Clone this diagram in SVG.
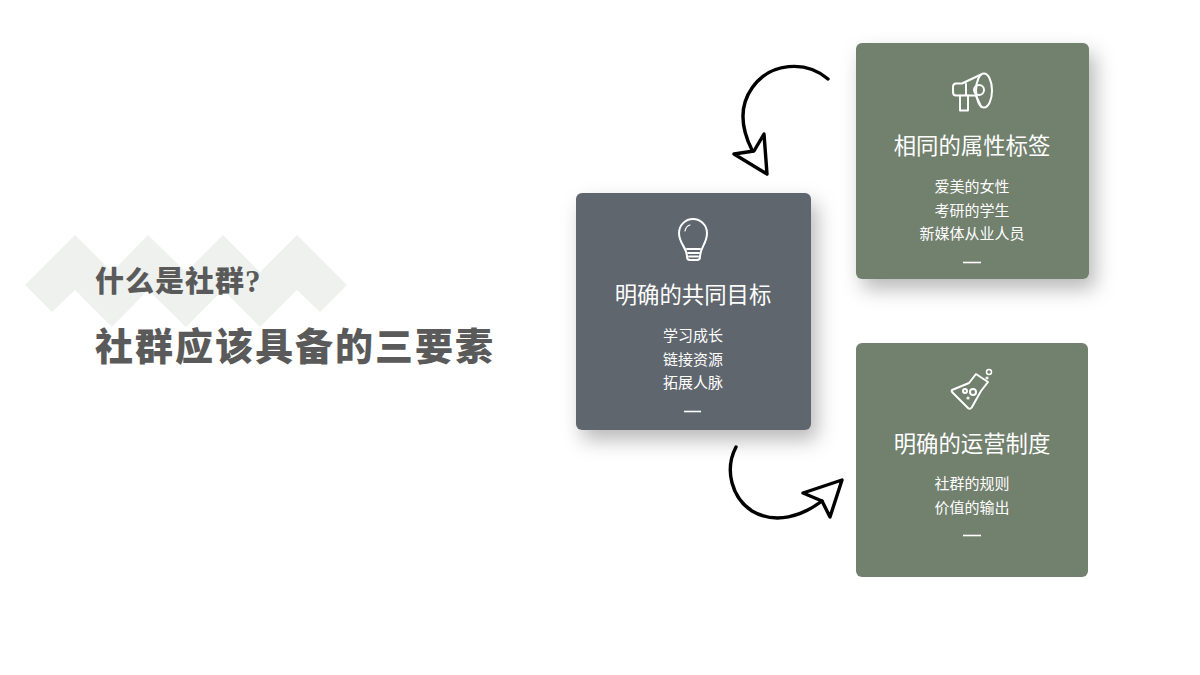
<svg xmlns="http://www.w3.org/2000/svg" width="1200" height="675" viewBox="0 0 1200 675">
<defs>
<filter id="sh" x="-20%" y="-20%" width="150%" height="150%"><feDropShadow dx="6" dy="10" stdDeviation="10" flood-color="#000" flood-opacity="0.28"/></filter>
</defs>
<style>
.h{font-family:"Liberation Serif","Noto Sans CJK SC",serif;font-weight:900;fill:#5a5a5a}
.t{font-family:"Noto Sans CJK SC",sans-serif;font-size:22.400px;fill:#fff;text-anchor:middle}
.s{font-family:"Noto Sans CJK SC",sans-serif;font-size:15px;fill:#fff;text-anchor:middle}
.i{fill:none;stroke:#fff;stroke-width:2;stroke-linejoin:round;stroke-linecap:round}
.d{stroke:#fff;stroke-width:1.6}
.c{fill:none;stroke:#000;stroke-width:3.400;stroke-linecap:round;stroke-linejoin:round}
</style>
<rect width="1200" height="675" fill="#fff"/>
<g id="heading">
<polygon points="25,285 75,235 112,272 148,235 186,272 223,235 260,272 297,235 347,285 320,312 297,290 260,327 223,290 186,327 148,290 112,327 75,290 52,312" fill="#eff1ef"/>
<text class="h" x="95" y="292" font-size="29" letter-spacing="1">什么是社群<tspan font-size="31">?</tspan></text>
<text class="h" x="95" y="360" font-size="38" letter-spacing="2">社群应该具备的三要素</text>
</g>
<g id="connectors">
<path class="c" d="M828 79C806 60 770 62 752 88C738 108 742 130 752 150"/>
<path class="c" d="M764 134L754 151L734 154L767 174Z"/>
<path class="c" d="M736 447C724 470 732 498 752 511C776 525 802 516 822 501"/>
<path class="c" d="M803 493L842 480L830 517L822 501Z"/>
</g>
<g id="node-attributes">
<rect x="856" y="43" width="233" height="236" rx="6" fill="#72806e" filter="url(#sh)"/>
<g class="i">
<ellipse cx="984" cy="90.500" rx="8" ry="17"/>
<path d="M981 74.500L962 83.500H956Q953 83.500 953 87V92Q953 95.500 956 95.500H976L981 106.500"/>
<circle cx="979" cy="90" r="5"/>
<path d="M960 95.500V110.500H968V95.500M966 84V95"/>
</g>
<text class="t" x="972" y="154">相同的属性标签</text>
<text class="s" x="972" y="192">爱美的女性</text>
<text class="s" x="972" y="216">考研的学生</text>
<text class="s" x="972" y="239">新媒体从业人员</text>
<line class="d" x1="963" y1="262.500" x2="981" y2="262.500"/>
</g>
<g id="node-goal">
<rect x="576" y="193" width="235" height="237" rx="6" fill="#5f666e" filter="url(#sh)"/>
<g class="i">
<path d="M687 257C687 247 679 244 679 233A14 14 0 0 1 707 233C707 244 700 247 700 257Q700 260 697 260H690Q687 260 687 257Z"/>
<path d="M687 249H700M688 253H699M689 256.500H698"/>
<path d="M685 231Q686 226 690 225" stroke-width="1.200"/>
</g>
<text class="t" x="693" y="303">明确的共同目标</text>
<text class="s" x="693" y="341">学习成长</text>
<text class="s" x="693" y="365">链接资源</text>
<text class="s" x="693" y="388">拓展人脉</text>
<line class="d" x1="684" y1="411.500" x2="701" y2="411.500"/>
</g>
<g id="node-operations">
<rect x="856" y="343" width="232" height="234" rx="6" fill="#72806e"/>
<g class="i">
<path d="M952 390L969 383L976 374L988 382L981 391L972 407Q970 410 968 408L953 393Q951 391 952 390Z"/>
<circle cx="973" cy="392" r="3"/>
<circle cx="965" cy="391" r="2"/>
<circle cx="968" cy="398" r="0.600"/>
<circle cx="989" cy="372" r="2.500" stroke-width="1.500"/>
<circle cx="987" cy="378" r="0.600"/>
</g>
<text class="t" x="972" y="452">明确的运营制度</text>
<text class="s" x="972" y="489">社群的规则</text>
<text class="s" x="972" y="513">价值的输出</text>
<line class="d" x1="963" y1="535.500" x2="981" y2="535.500"/>
</g>
</svg>
